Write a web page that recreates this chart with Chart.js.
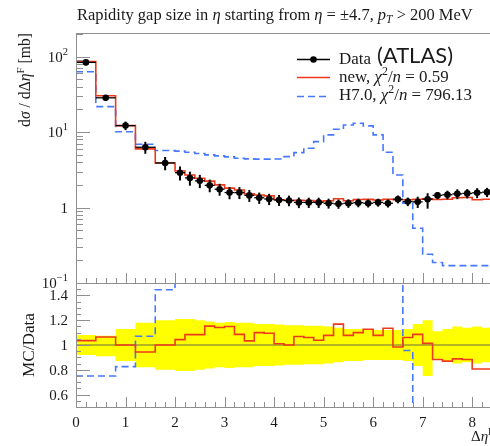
<!DOCTYPE html>
<html>
<head>
<meta charset="utf-8">
<script src="https://cdn.jsdelivr.net/npm/chart.js@4.4.1/dist/chart.umd.min.js"></script>
<style>
  html, body { margin:0; padding:0; background:#ffffff; overflow:hidden; }
  #wrap { position:relative; width:490px; height:446px; overflow:hidden; background:#ffffff; }
  #mainCanvas { position:absolute; left:0; top:0; }
  #ratioCanvas { position:absolute; left:0; top:283px; }
</style>
</head>
<body>
<div id="wrap">
  <canvas id="mainCanvas" width="496" height="298"></canvas>
  <canvas id="ratioCanvas" width="496" height="163"></canvas>
</div>
<script>
// ---------------- data ----------------
const binEdges = [0, 0.4, 0.8, 1.2, 1.6, 2.0, 2.2, 2.4, 2.6, 2.8, 3.0, 3.2, 3.4, 3.6, 3.8, 4.0, 4.2, 4.4, 4.6, 4.8, 5.0,
                  5.2, 5.4, 5.6, 5.8, 6.0, 6.2, 6.4, 6.6, 6.8, 7.0, 7.2, 7.4, 7.6, 7.8, 8.0, 8.2, 8.4];
const dataValues = [84, 28.5, 12.2, 6.3, 3.9, 2.9, 2.47, 2.26, 1.97, 1.75, 1.58, 1.58, 1.45, 1.35, 1.30, 1.26, 1.24, 1.17, 1.17, 1.17,
                    1.14, 1.12, 1.14, 1.16, 1.14, 1.17, 1.14, 1.29, 1.20, 1.19, 1.29, 1.45, 1.48, 1.52, 1.54, 1.57, 1.60];
const dataErrUp   = [0.08, 0.075, 0.13, 0.18, 0.20, 0.21, 0.21, 0.20, 0.19, 0.18, 0.185, 0.18, 0.18, 0.17, 0.17, 0.165, 0.16, 0.16, 0.155, 0.155,
                     0.15, 0.14, 0.13, 0.13, 0.12, 0.12, 0.12, 0.12, 0.13, 0.17, 0.20, 0.11, 0.13, 0.15, 0.14, 0.15, 0.14];
const dataErrDown = [0.08, 0.09, 0.13, 0.18, 0.20, 0.21, 0.21, 0.20, 0.19, 0.18, 0.185, 0.18, 0.18, 0.17, 0.17, 0.165, 0.16, 0.16, 0.155, 0.155,
                     0.15, 0.14, 0.13, 0.13, 0.12, 0.12, 0.12, 0.12, 0.13, 0.17, 0.25, 0.11, 0.13, 0.15, 0.14, 0.15, 0.14];
const newValues = [86, 30.4, 12.2, 6.0, 3.9, 3.05, 2.7, 2.45, 2.24, 2.0, 1.81, 1.71, 1.52, 1.47, 1.43, 1.27, 1.24, 1.25, 1.24, 1.21,
                   1.23, 1.31, 1.23, 1.28, 1.285, 1.26, 1.29, 1.27, 1.27, 1.29, 1.31, 1.28, 1.29, 1.35, 1.36, 1.27, 1.29];
const h7Values = [63, 21.8, 10.1, 6.9, 5.7, 5.6, 5.4, 5.2, 5.0, 4.85, 4.7, 4.5, 4.42, 4.38, 4.38, 4.4, 4.74, 5.35, 6.12, 7.49,
                  9.18, 10.9, 12.4, 13.1, 12.1, 9.18, 5.4, 2.7, 1.14, 0.533, 0.24, 0.187, 0.17, 0.17, 0.17, 0.17, 0.17];
const newRatio = [1.035, 1.065, 1.0, 0.943, 1.0, 1.043, 1.084, 1.084, 1.152, 1.141, 1.149, 1.086, 1.033, 1.10, 1.095, 1.01, 1.0, 1.068, 1.06, 1.038,
                  1.078, 1.168, 1.078, 1.10, 1.127, 1.078, 1.135, 0.984, 1.06, 1.086, 1.013, 0.883, 0.87, 0.888, 0.883, 0.807, 0.807];
const h7Ratio = [0.75, 0.75, 0.826, 1.07, 1.445, 1.93, 2.19, 2.3, 2.54, 2.77, 2.97, 2.85, 3.05, 3.26, 3.37, 3.49, 3.82, 4.57, 5.23, 6.4,
                 8.05, 9.73, 10.9, 11.3, 10.6, 7.85, 4.74, 2.09, 0.956, 0.45, 0.19, 0.13, 0.115, 0.112, 0.11, 0.108, 0.106];
const xTickValues = [0, 1, 2, 3, 4, 5, 6, 7, 8];
const xTickLabels = ['0', '1', '2', '3', '4', '5', '6', '7', '8'];
const mainYTickValues = [100, 10, 1, 0.1];
const mainYTickLabels = [['10', '2'], ['10', '1'], ['1', ''], ['10', '\u22121']];
const ratioYTickValues = [0.6, 0.8, 1.0, 1.2, 1.4];
const ratioYTickLabels = ['0.6', '0.8', '1', '1.2', '1.4'];
const seriesNames = ['Data', 'new', 'H7.0'];
const chi2Values = ['0.59', '796.13'];

// ---------------- styles ----------------
const RED = '#ee3a1c';
const BLUE = '#4678ff';
const YELLOW = '#ffff00';
const OLIVE = '#9c9c2a';
const FRAME = '#8f8f8f';
const TXT = '#1a1a1a';
const SERIF = '"Liberation Serif", "Times New Roman", serif';
const SANS = 'Lato, "Open Sans", sans-serif';
const X_MAX = 8.4;

// ---------------- helpers ----------------
function stepData(vals) {
  const pts = vals.map((v, i) => ({ x: binEdges[i], y: v }));
  pts.push({ x: binEdges[binEdges.length - 1], y: vals[vals.length - 1] });
  return pts;
}
function fontFor(p, size, fam) {
  const s = (p.sup || p.sub) ? size * 0.7 : size;
  return (p.it ? 'italic ' : '') + s.toFixed(2) + 'px ' + (fam || SERIF);
}
function richWidth(ctx, parts, size, fam) {
  let w = 0;
  for (const p of parts) { ctx.font = fontFor(p, size, fam); w += ctx.measureText(p.t).width; }
  return w;
}
function drawRich(ctx, parts, x, y, size, fam) {
  let cx = x;
  ctx.textAlign = 'left';
  ctx.textBaseline = 'alphabetic';
  for (const p of parts) {
    ctx.font = fontFor(p, size, fam);
    const dy = p.sup ? -size * 0.4 : (p.sub ? size * 0.22 : 0);
    ctx.fillText(p.t, cx, y + dy);
    cx += ctx.measureText(p.t).width;
  }
  return cx;
}
function fitSize(ctx, parts, width, base, fam) {
  return base * width / richWidth(ctx, parts, base, fam);
}
function seg(ctx, x1, y1, x2, y2) { ctx.beginPath(); ctx.moveTo(x1, y1); ctx.lineTo(x2, y2); ctx.stroke(); }
const crisp = v => Math.round(v) + 0.5;

function drawFrameTicks(chart, yMajor, yMinor, yMajLen, yMinLen) {
  const { ctx, chartArea: a, scales: { x, y } } = chart;
  ctx.save();
  ctx.strokeStyle = FRAME;
  ctx.lineWidth = 1;
  ctx.strokeRect(crisp(a.left), crisp(a.top), Math.round(a.right - a.left), Math.round(a.bottom - a.top));
  // x ticks (bottom, pointing inward)
  for (let i = 0; i <= 42; i++) {
    const v = i / 5;
    if (v > X_MAX + 1e-9) break;
    const px = crisp(x.getPixelForValue(v));
    const len = (i % 5 === 0) ? 10 : 5;
    seg(ctx, px, a.bottom, px, a.bottom - len);
  }
  for (const v of yMajor) { const py = crisp(y.getPixelForValue(v)); seg(ctx, a.left, py, a.left + yMajLen, py); }
  for (const v of yMinor) { const py = crisp(y.getPixelForValue(v)); seg(ctx, a.left, py, a.left + yMinLen, py); }
  ctx.restore();
}

// ---------------- main panel decorations ----------------
const mainDecor = {
  id: 'mainDecor',
  afterDatasetsDraw(chart) {
    const { ctx, chartArea: a, scales: { x, y } } = chart;
    // data error bars
    ctx.save();
    ctx.beginPath(); ctx.rect(a.left, a.top, a.right - a.left, a.bottom - a.top); ctx.clip();
    ctx.strokeStyle = '#000';
    dataValues.forEach((v, i) => {
      const xl = x.getPixelForValue(binEdges[i]), xr = x.getPixelForValue(binEdges[i + 1]);
      const xc = x.getPixelForValue((binEdges[i] + binEdges[i + 1]) / 2);
      const yc = y.getPixelForValue(v);
      const yt = y.getPixelForValue(v * (1 + dataErrUp[i]));
      const yb = y.getPixelForValue(v * (1 - dataErrDown[i]));
      ctx.lineWidth = 1.3; seg(ctx, xl, yc, xr, yc);
      ctx.lineWidth = 2; seg(ctx, xc, yt, xc, yb);
    });
    ctx.restore();

    // frame and ticks
    const minor = [];
    for (const d of [0.1, 1, 10, 100]) for (let m = 2; m <= 9; m++) { const v = m * d; if (v < 206) minor.push(v); }
    drawFrameTicks(chart, mainYTickValues, minor, 14, 7);

    ctx.save();
    ctx.fillStyle = TXT;
    // y tick labels with exponents
    mainYTickValues.forEach((v, i) => {
      const py = y.getPixelForValue(v);
      const [b, e] = mainYTickLabels[i];
      ctx.font = '15px ' + SERIF; const wb = ctx.measureText(b).width;
      ctx.font = '10.5px ' + SERIF; const we = ctx.measureText(e).width;
      const x0 = 68 - wb - we;
      ctx.textAlign = 'left'; ctx.textBaseline = 'alphabetic';
      ctx.font = '15px ' + SERIF; ctx.fillText(b, x0, py + 5);
      if (e) { ctx.font = '10.5px ' + SERIF; ctx.fillText(e, x0 + wb, py - 2); }
    });

    // title
    const titleParts = [{ t: 'Rapidity gap size in ' }, { t: '\u03b7', it: 1 }, { t: ' starting from ' }, { t: '\u03b7', it: 1 },
      { t: ' = \u00b14.7, ' }, { t: 'p', it: 1 }, { t: 'T', it: 1, sub: 1 }, { t: ' > 200 MeV' }];
    const ts = fitSize(ctx, titleParts, 396, 15);
    drawRich(ctx, titleParts, 77, 19.5, ts);

    // y axis title (rotated, top aligned)
    const yParts = [{ t: 'd' }, { t: '\u03c3', it: 1 }, { t: ' / d\u0394' }, { t: '\u03b7', it: 1 }, { t: 'F', sup: 1 }, { t: ' [mb]' }];
    const ys = fitSize(ctx, yParts, 94, 15);
    const yw = richWidth(ctx, yParts, ys);
    ctx.save();
    ctx.translate(30, 33 + yw);
    ctx.rotate(-Math.PI / 2);
    drawRich(ctx, yParts, 0, 0, ys);
    ctx.restore();

    // legend
    const row2 = [{ t: seriesNames[1] + ', ' }, { t: '\u03c7', it: 1 }, { t: '2', sup: 1 }, { t: '/' }, { t: 'n', it: 1 }, { t: ' = ' + chi2Values[0] }];
    const row3 = [{ t: seriesNames[2] + ', ' }, { t: '\u03c7', it: 1 }, { t: '2', sup: 1 }, { t: '/' }, { t: 'n', it: 1 }, { t: ' = ' + chi2Values[1] }];
    const ls = fitSize(ctx, row3, 133, 15);
    // Data
    ctx.strokeStyle = '#000'; ctx.lineWidth = 1.5;
    seg(ctx, 297, 59.5, 330, 59.5);
    ctx.beginPath(); ctx.arc(313.5, 59.5, 3.3, 0, Math.PI * 2); ctx.fillStyle = '#000'; ctx.fill();
    ctx.fillStyle = TXT;
    drawRich(ctx, [{ t: seriesNames[0] }], 339, 63.5, ls);
    const as = fitSize(ctx, [{ t: '(ATLAS)' }], 76, 19, SANS);
    drawRich(ctx, [{ t: '(ATLAS)' }], 377, 62.5, as, SANS);
    // new
    ctx.strokeStyle = RED; ctx.lineWidth = 1.6;
    seg(ctx, 297, 77.5, 330, 77.5);
    drawRich(ctx, row2, 339, 81.5, ls);
    // H7.0
    ctx.strokeStyle = BLUE; ctx.lineWidth = 1.6; ctx.setLineDash([7, 4]);
    seg(ctx, 297, 96.5, 330, 96.5);
    ctx.setLineDash([]);
    drawRich(ctx, row3, 339, 100, ls);
    ctx.restore();
  }
};

// ---------------- ratio panel decorations ----------------
const ratioDecor = {
  id: 'ratioDecor',
  afterDatasetsDraw(chart) {
    const { ctx, scales: { x, y } } = chart;
    const minor = [];
    for (let i = 10; i <= 30; i++) minor.push(i / 20);
    drawFrameTicks(chart, ratioYTickValues, minor, 14, 5);
    ctx.save();
    ctx.fillStyle = TXT;
    ctx.font = '15px ' + SERIF;
    ctx.textBaseline = 'alphabetic';
    ratioYTickValues.forEach((v, i) => {
      ctx.textAlign = 'right';
      ctx.fillText(ratioYTickLabels[i], 68, y.getPixelForValue(v) + 5);
    });
    xTickValues.forEach((v, i) => {
      ctx.textAlign = 'center';
      ctx.fillText(xTickLabels[i], x.getPixelForValue(v), 143.5);
    });
    // axis titles
    const mcParts = [{ t: 'MC/Data' }];
    const ms = fitSize(ctx, mcParts, 64, 15);
    const mw = richWidth(ctx, mcParts, ms);
    ctx.save();
    ctx.translate(34, y.getPixelForValue(1) + mw / 2);
    ctx.rotate(-Math.PI / 2);
    drawRich(ctx, mcParts, 0, 0, ms);
    ctx.restore();
    drawRich(ctx, [{ t: '\u0394' }, { t: '\u03b7', it: 1 }, { t: 'F', sup: 1 }], 471, 158, 15);
    ctx.restore();
  }
};

const commonOpts = (pad, yScale) => ({
  responsive: false, animation: false, devicePixelRatio: 1, events: [],
  layout: { padding: pad },
  plugins: { legend: { display: false }, tooltip: { enabled: false }, title: { display: false } },
  scales: { x: { type: 'linear', min: 0, max: X_MAX, display: false }, y: yScale }
});

// ---------------- main chart ----------------
const centers = dataValues.map((v, i) => ({ x: (binEdges[i] + binEdges[i + 1]) / 2, y: v }));
new Chart(document.getElementById('mainCanvas'), {
  type: 'line',
  data: {
    datasets: [
      { label: seriesNames[0], data: centers, showLine: false, pointRadius: 3.3, pointBackgroundColor: '#000', pointBorderColor: '#000', pointBorderWidth: 0, order: 0 },
      { label: seriesNames[1], data: stepData(newValues), stepped: true, borderColor: RED, borderWidth: 1.6, pointRadius: 0, fill: false, order: 1 },
      { label: seriesNames[2], data: stepData(h7Values), stepped: true, borderColor: BLUE, borderWidth: 1.6, borderDash: [7, 4], pointRadius: 0, fill: false, order: 2 }
    ]
  },
  options: commonOpts({ left: 76, top: 33, right: 4, bottom: 15 }, { type: 'logarithmic', min: 0.1, max: 206, display: false }),
  plugins: [mainDecor]
});

// ---------------- ratio chart ----------------
const ones = dataValues.map(() => 1);
new Chart(document.getElementById('ratioCanvas'), {
  type: 'line',
  data: {
    datasets: [
      { label: 'band up', data: stepData(dataErrUp.map(e => 1 + e)), stepped: true, borderWidth: 0, borderColor: YELLOW, backgroundColor: YELLOW, pointRadius: 0, fill: '+1', order: 5 },
      { label: 'band down', data: stepData(dataErrDown.map(e => 1 - e)), stepped: true, borderWidth: 0, borderColor: YELLOW, pointRadius: 0, fill: false, order: 6 },
      { label: seriesNames[0], data: stepData(ones), stepped: true, borderColor: OLIVE, borderWidth: 1.5, pointRadius: 0, fill: false, order: 3 },
      { label: seriesNames[1], data: stepData(newRatio), stepped: true, borderColor: RED, borderWidth: 1.6, pointRadius: 0, fill: false, order: 1 },
      { label: seriesNames[2], data: stepData(h7Ratio), stepped: true, borderColor: BLUE, borderWidth: 1.6, borderDash: [7, 4], pointRadius: 0, fill: false, order: 2 }
    ]
  },
  options: commonOpts({ left: 76, top: 0, right: 4, bottom: 39 }, { type: 'linear', min: 0.5, max: 1.5, display: false }),
  plugins: [ratioDecor]
});
</script>
</body>
</html>
